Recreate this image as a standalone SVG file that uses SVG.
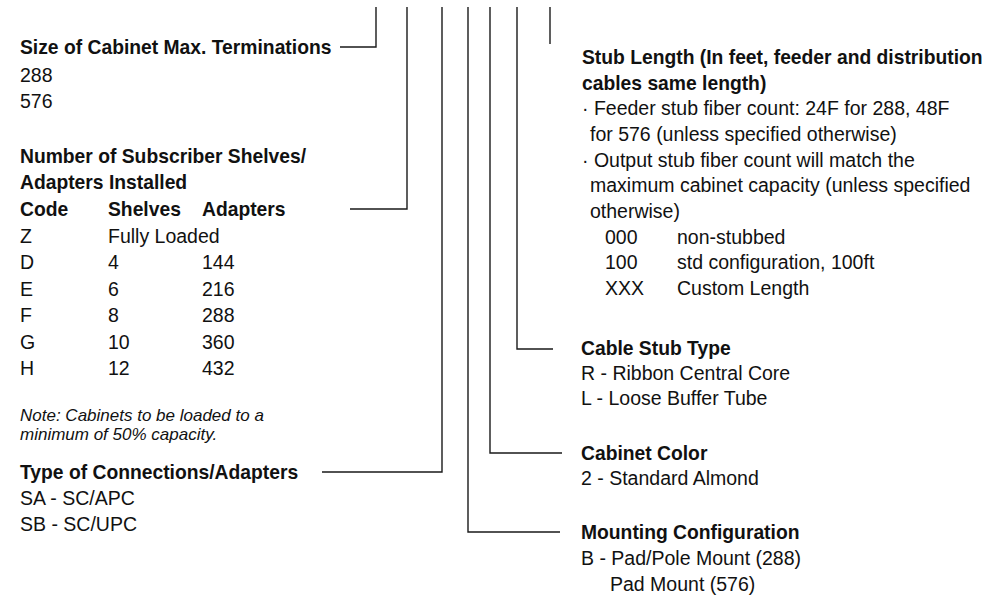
<svg xmlns="http://www.w3.org/2000/svg" width="992" height="598" viewBox="0 0 992 598">
<style>
text{font-family:"Liberation Sans",Arial,sans-serif;font-size:19.5px;fill:#111;dominant-baseline:central}
.b{font-weight:bold;font-size:19.3px}
.n{font-style:italic;font-size:17px}
.c{fill:none;stroke:#1a1a1a;stroke-width:1.4}
</style>
<rect width="992" height="598" fill="#fff"/>
<g id="connectors" class="c">
<polyline points="376,7 376,47 340,47"/>
<polyline points="407,7 407,209 350,209"/>
<polyline points="442,7 442,472 322,472"/>
<polyline points="468,7 468,532 560,532"/>
<polyline points="490,7 490,453 562,453"/>
<polyline points="517,7 517,349 553,349"/>
<polyline points="550,7 550,44"/>
</g>
<g id="size">
<text class="b" x="20" y="47">Size of Cabinet Max. Terminations</text>
<text x="20" y="75">288</text>
<text x="20" y="101">576</text>
</g>
<g id="shelves">
<text class="b" x="20" y="156">Number of Subscriber Shelves/</text>
<text class="b" x="20" y="182">Adapters Installed</text>
<text class="b" x="20" y="209">Code</text><text class="b" x="108" y="209">Shelves</text><text class="b" x="202" y="209">Adapters</text>
<text x="20" y="236">Z</text><text x="108" y="236">Fully Loaded</text>
<text x="20" y="262">D</text><text x="108" y="262">4</text><text x="202" y="262">144</text>
<text x="20" y="289">E</text><text x="108" y="289">6</text><text x="202" y="289">216</text>
<text x="20" y="315">F</text><text x="108" y="315">8</text><text x="202" y="315">288</text>
<text x="20" y="342">G</text><text x="108" y="342">10</text><text x="202" y="342">360</text>
<text x="20" y="368">H</text><text x="108" y="368">12</text><text x="202" y="368">432</text>
<text class="n" x="20" y="415">Note: Cabinets to be loaded to a</text>
<text class="n" x="20" y="434">minimum of 50% capacity.</text>
</g>
<g id="connections">
<text class="b" x="20" y="472">Type of Connections/Adapters</text>
<text x="20" y="498">SA - SC/APC</text>
<text x="20" y="524">SB - SC/UPC</text>
</g>
<g id="stub-length">
<text class="b" x="582" y="57">Stub Length (In feet, feeder and distribution</text>
<text class="b" x="582" y="83">cables same length)</text>
<text x="582" y="108">· Feeder stub fiber count: 24F for 288, 48F</text>
<text x="590" y="134">for 576 (unless specified otherwise)</text>
<text x="582" y="160">· Output stub fiber count will match the</text>
<text x="590" y="185">maximum cabinet capacity (unless specified</text>
<text x="590" y="211">otherwise)</text>
<text x="605" y="237">000</text><text x="677" y="237">non-stubbed</text>
<text x="605" y="262">100</text><text x="677" y="262">std configuration, 100ft</text>
<text x="605" y="288">XXX</text><text x="677" y="288">Custom Length</text>
</g>
<g id="stub-type">
<text class="b" x="581" y="348">Cable Stub Type</text>
<text x="581" y="373">R - Ribbon Central Core</text>
<text x="581" y="398">L - Loose Buffer Tube</text>
</g>
<g id="color">
<text class="b" x="581" y="453">Cabinet Color</text>
<text x="581" y="478">2 - Standard Almond</text>
</g>
<g id="mounting">
<text class="b" x="581" y="532">Mounting Configuration</text>
<text x="581" y="558">B - Pad/Pole Mount (288)</text>
<text x="610" y="584">Pad Mount (576)</text>
</g>
</svg>
